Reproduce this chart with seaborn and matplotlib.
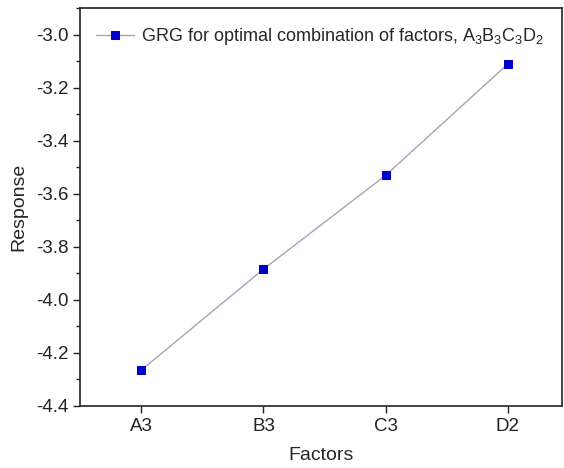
import pandas as pd
import matplotlib.pyplot as plt
from matplotlib.ticker import MultipleLocator
import seaborn as sns

# values
factors = ["A3", "B3", "C3", "D2"]
response = [-4.265, -3.884, -3.530, -3.110]

df = pd.DataFrame({"Factors": factors, "Response": response})

sns.set_style("ticks")
plt.rcParams['font.family'] = ['Liberation Sans', 'DejaVu Sans']
plt.rcParams['mathtext.fontset'] = 'custom'
plt.rcParams['mathtext.rm'] = 'Liberation Sans'
plt.rcParams['mathtext.default'] = 'regular'

fig = plt.figure(figsize=(5.64, 4.68), dpi=100)
ax = fig.add_axes([0.142, 0.1325, 0.854, 0.85])

sns.lineplot(data=df, x="Factors", y="Response", ax=ax, sort=False,
             color="#a4a4b8", linewidth=1.0, marker="s", markersize=6,
             markerfacecolor="#0000cc", markeredgecolor="#0000cc",
             label="GRG for optimal combination of factors, A$_3$B$_3$C$_3$D$_2$")

ax.set_xlim(-0.5, 3.44)
ax.set_ylim(-4.4, -2.9)
ax.yaxis.set_major_locator(MultipleLocator(0.2))
ax.yaxis.set_minor_locator(MultipleLocator(0.1))
ax.yaxis.set_major_formatter(plt.FuncFormatter(lambda v, p: f"{v:.1f}"))

for s in ax.spines.values():
    s.set_visible(True)
    s.set_color("#222222")
    s.set_linewidth(1.2)

ax.tick_params(axis="both", which="major", direction="out", length=5, width=1,
               labelsize=13.5, colors="#222222", top=False, right=False)
ax.tick_params(axis="y", which="minor", direction="out", length=3, width=1)
ax.tick_params(axis="x", which="minor", bottom=False)

ax.set_xlabel("Factors", fontsize=14, labelpad=9)
ax.set_ylabel("Response", fontsize=14, labelpad=6)

ax.legend(loc="upper left", bbox_to_anchor=(0.0, 0.995), frameon=False,
          fontsize=13, handlelength=2.1, handletextpad=0.4)

fig.savefig("out.png", dpi=100)
